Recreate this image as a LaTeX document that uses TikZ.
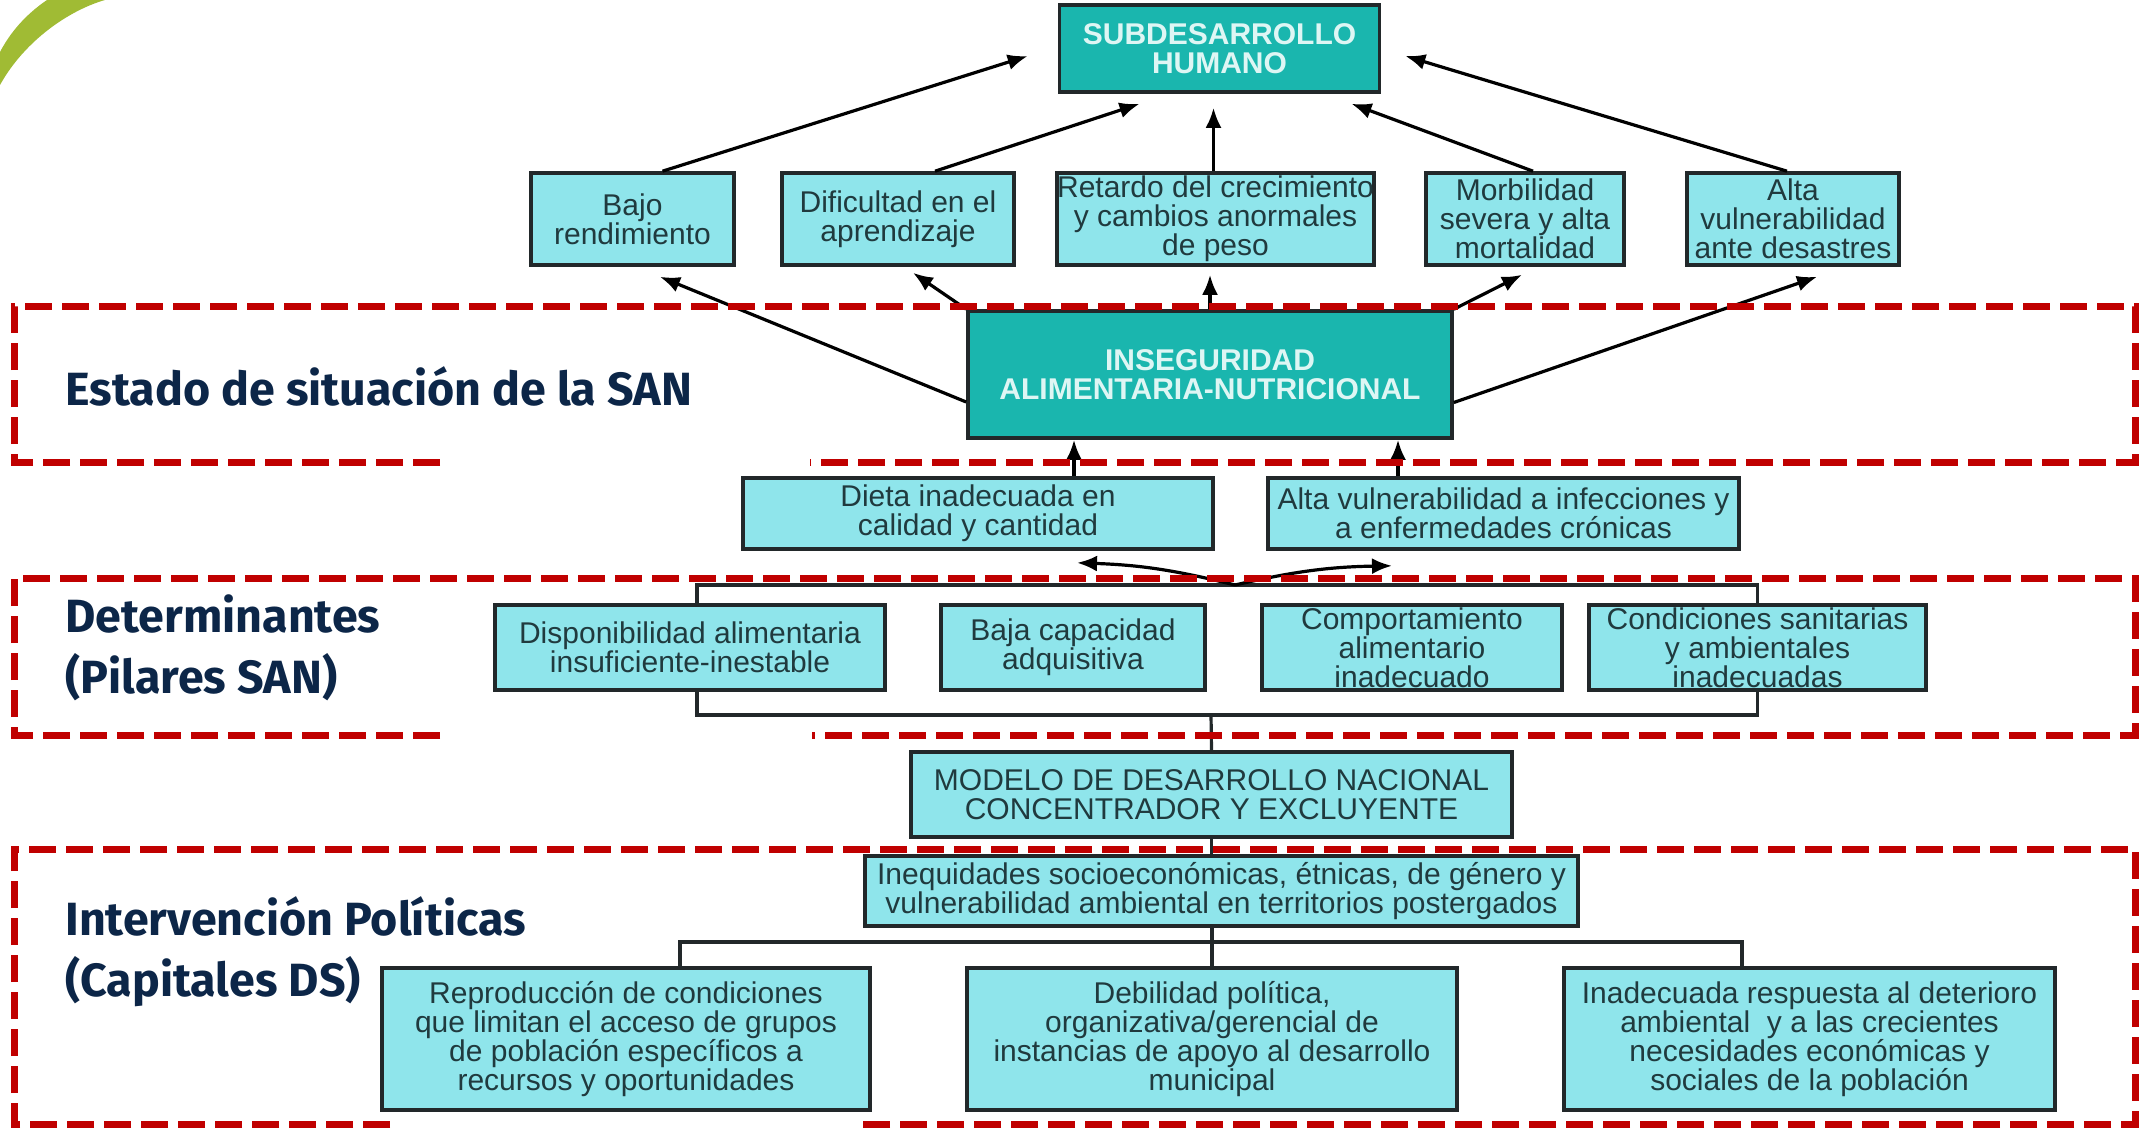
\documentclass[tikz,border=0pt]{standalone}
\usepackage{fontspec}
\setmainfont{Liberation Sans}
\newfontfamily\labelfont{Fira Sans}
\usetikzlibrary{arrows.meta}

\definecolor{boxfill}{RGB}{143,229,235}
\definecolor{keyfill}{RGB}{26,182,174}
\definecolor{boxline}{RGB}{34,40,42}
\definecolor{boxtext}{RGB}{32,58,62}
\definecolor{keytext}{RGB}{222,246,244}
\definecolor{sanred}{RGB}{192,0,0}
\definecolor{navy}{RGB}{12,38,72}
\definecolor{leaf}{RGB}{160,187,52}

\tikzset{
  box/.style={draw=boxline, line width=1.8pt, fill=boxfill, text=boxtext, align=center,
    inner sep=0pt, font=\fontsize{15}{14.5}\selectfont},
  keybox/.style={box, fill=keyfill, text=keytext, font=\fontsize{15}{14.5}\selectfont\bfseries},
  arr/.style={-{Latex[length=10pt,width=8pt]}, line width=1.6pt},
  link/.style={line width=1.6pt, draw=boxline},
  band/.style={draw=sanred, line width=3.5pt, dash pattern=on 13.5pt off 5pt},
  tag/.style={anchor=west, inner sep=0pt, text=navy, align=left,
    font=\labelfont\bfseries\fontsize{23.3}{30.5}\selectfont}
}

\begin{document}
\begin{tikzpicture}[x=0.5pt,y=-0.5pt]
  \useasboundingbox (0,0) rectangle (2139,1128);
  \fill[leaf] (0,52) .. controls (10,33) and (25,15) .. (47,0) -- (105,0)
    .. controls (70,10) and (25,40) .. (0,85) -- cycle;

  % top levels
  \node[keybox, minimum width=160pt, minimum height=43.5pt] (sub) at (1219.5,48.5) {SUBDESARROLLO\\HUMANO};
  \node[box, minimum width=101.5pt, minimum height=46pt] (bajo) at (632.5,219) {Bajo\\rendimiento};
  \node[box, minimum width=116pt, minimum height=46pt] (dific) at (898,219) {Dificultad en el\\aprendizaje};
  \node[box, minimum width=157.5pt, minimum height=46pt] (retardo) at (1215.5,219) {Retardo del crecimiento\\y cambios anormales\\de peso};
  \node[box, minimum width=99pt, minimum height=46pt] (morb) at (1525,219) {Morbilidad\\severa y alta\\mortalidad};
  \node[box, minimum width=106pt, minimum height=46pt] (altav) at (1793,219) {Alta\\vulnerabilidad\\ante desastres};
  \node[keybox, minimum width=242pt, minimum height=63.5pt] (inseg) at (1210,374.5) {INSEGURIDAD\\ALIMENTARIA-NUTRICIONAL};
  \node[box, minimum width=235pt, minimum height=35.5pt] (dieta) at (978,513.5) {Dieta inadecuada en\\calidad y cantidad};
  \node[box, minimum width=235.5pt, minimum height=35.5pt] (infec) at (1503.5,513.5) {Alta vulnerabilidad a infecciones y\\a enfermedades crónicas};

  % determinantes
  \node[box, minimum width=195pt, minimum height=42.5pt] (dispo) at (690,647.5) {Disponibilidad alimentaria\\insuficiente-inestable};
  \node[box, minimum width=132pt, minimum height=42.5pt] (baja) at (1073,647.5) {Baja capacidad\\adquisitiva};
  \node[box, minimum width=150pt, minimum height=42.5pt] (compo) at (1412,647.5) {Comportamiento\\alimentario\\inadecuado};
  \node[box, minimum width=168.5pt, minimum height=42.5pt] (condi) at (1757.5,647.5) {Condiciones sanitarias\\y ambientales\\inadecuadas};

  % modelo y capitales
  \node[box, minimum width=300.5pt, minimum height=42.5pt] (modelo) at (1211.5,794.5) {MODELO DE DESARROLLO NACIONAL\\CONCENTRADOR Y EXCLUYENTE};
  \node[box, minimum width=356.5pt, minimum height=35pt] (ineq) at (1221.5,891) {Inequidades socioeconómicas, étnicas, de género y\\vulnerabilidad ambiental en territorios postergados};
  \node[box, minimum width=244pt, minimum height=71pt] (repro) at (626,1039) {Reproducción de condiciones\\que limitan el acceso de grupos\\de población específicos a\\recursos y oportunidades};
  \node[box, minimum width=245pt, minimum height=71pt] (debil) at (1212,1039) {Debilidad política,\\organizativa/gerencial de\\instancias de apoyo al desarrollo\\municipal};
  \node[box, minimum width=245.5pt, minimum height=71pt] (inade) at (1809.5,1039) {Inadecuada respuesta al deterioro\\ambiental\ \ y a las crecientes\\necesidades económicas y\\sociales de la población};

  % arrows to subdesarrollo
  \draw[arr] ([xshift=15pt]bajo.north) -- ([xshift=-15pt,yshift=-3.75pt]sub.west);
  \draw[arr] ([xshift=18.5pt]dific.north) -- ([xshift=-40pt,yshift=-5pt]sub.south);
  \draw[arr, shorten >=7pt] ([xshift=-1pt]retardo.north) -- ([xshift=-1pt]retardo.north |- sub.south);
  \draw[arr] ([xshift=4pt]morb.north) -- ([xshift=66pt,yshift=-5pt]sub.south);
  \draw[arr] ([xshift=-3pt]altav.north) -- ([xshift=12pt,yshift=-3.75pt]sub.east);

  % arrows from inseguridad
  \draw[arr] ([yshift=-13.75pt]inseg.west) -- ([xshift=13.75pt,yshift=-5pt]bajo.south);
  \draw[arr] (inseg.north west) -- ([xshift=7.5pt,yshift=-3pt]dific.south);
  \draw[arr, shorten >=4pt] (inseg.north) -- (inseg.north |- retardo.south);
  \draw[arr] (inseg.north east) -- ([xshift=-1.5pt,yshift=-4pt]morb.south);
  \draw[arr] ([yshift=-14pt]inseg.east) -- ([xshift=12pt,yshift=-5pt]altav.south);
  \draw[arr] ([xshift=48pt]dieta.north) -- ([xshift=48pt]dieta.north |- inseg.south);
  \draw[arr] ([xshift=-52.75pt]infec.north) -- ([xshift=-52.75pt]infec.north |- inseg.south);

  % brackets
  \coordinate (dtop) at (1235,585);
  \coordinate (dbot) at (1211,715);
  \coordinate (ibar) at (1211,942);
  \draw[link] ([xshift=3.5pt]dispo.north) |- (dtop) -| (condi.north);
  \draw[link] ([xshift=3.5pt]dispo.south) |- (dbot) -| (condi.south);
  \draw[link] (dbot) -- (modelo.north);
  \draw[arr] (dtop) to[bend right=6] ([xshift=49.5pt,yshift=-6pt]dieta.south);
  \draw[arr] (dtop) to[bend left=6] ([xshift=-55.75pt,yshift=-7.5pt]infec.south);
  \draw[link] (modelo.south) -- (modelo.south |- ineq.north);
  \draw[link] (debil.north |- ineq.south) -- (debil.north);
  \draw[link] ([xshift=27pt]repro.north) |- (ibar) -| ([xshift=-33.75pt]inade.north);

  % bands
  \draw[band] (440,462) -| (14,307) -| (2135,462) -- (810,462);
  \draw[band] (440,735) -| (14,578) -| (2135,735) -- (812,735);
  \draw[band] (390,1124) -| (14,849) -| (2135,1124) -- (860,1124);

  \node[tag] (estado) at (65,386) {Estado de situación de la SAN};
  \node[tag] (determ) at (65,648) {Determinantes\\(Pilares SAN)};
  \node[tag] (interv) at (65,952) {Intervención Políticas\\(Capitales DS)};
\end{tikzpicture}
\end{document}
